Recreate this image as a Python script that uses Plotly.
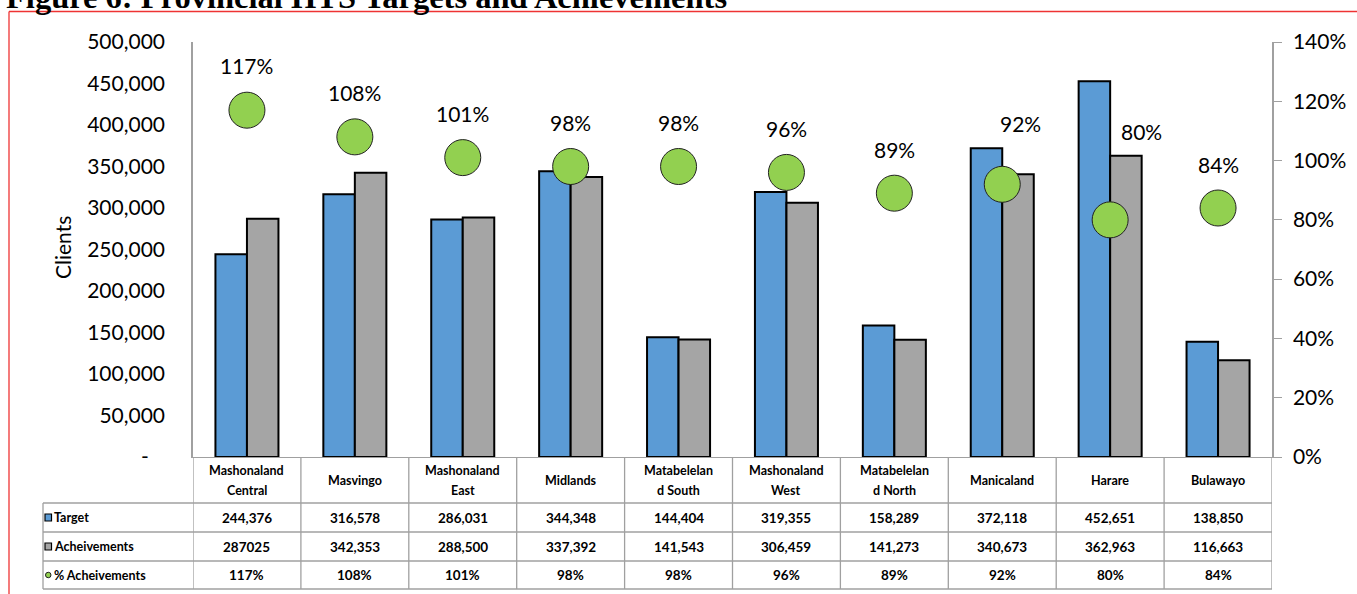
import plotly.graph_objects as go

# ---------------- data ----------------
categories = ["Mashonaland\nCentral", "Masvingo", "Mashonaland\nEast", "Midlands",
              "Matabelelan\nd South", "Mashonaland\nWest", "Matabelelan\nd North",
              "Manicaland", "Harare", "Bulawayo"]
target = [244376, 316578, 286031, 344348, 144404, 319355, 158289, 372118, 452651, 138850]
achievements = [287025, 342353, 288500, 337392, 141543, 306459, 141273, 340673, 362963, 116663]
achievement_labels = ["287025", "342,353", "288,500", "337,392", "141,543", "306,459",
                      "141,273", "340,673", "362,963", "116,663"]
pct_achievement = [1.17, 1.08, 1.01, 0.98, 0.98, 0.96, 0.89, 0.92, 0.80, 0.84]
row_labels = ["Target", "Acheivements", "% Acheivements"]
left_ticks = [0, 50000, 100000, 150000, 200000, 250000, 300000, 350000, 400000, 450000, 500000]
left_ticktext = ["-\u00a0\u00a0\u00a0"] + [f"{v:,}" for v in left_ticks[1:]]
title_text = "Figure 6: Provincial HTS Targets and Achievements"

# label offsets (pixels) for the percentage labels
label_dx = [0, 0, 0, 0, 0, 0, 0, 18, 31, 0]
label_dy = [45, 44, 44, 44, 44, 44, 44, 61, 88, 44]

# ---------------- geometry ----------------
W, H = 1357, 594
PL, PR, PT, PB = 193, 1272, 42, 457


def px(p):
    """window x pixel -> paper x"""
    return (p - PL) / (PR - PL)


def py(p):
    """window y pixel -> paper y"""
    return (PB - p) / (PB - PT)


BLUE = "#5B9BD5"
GRAY = "#A5A5A5"
GREEN = "#92D050"
LINE = "#A0A0A0"
FONT = "Lato"

x_idx = list(range(len(categories)))

fig = go.Figure()
fig.add_trace(go.Bar(x=x_idx, y=target, name="Target", marker=dict(color=BLUE, line=dict(color="black", width=2))))
fig.add_trace(go.Bar(x=x_idx, y=achievements, name="Acheivements", marker=dict(color=GRAY, line=dict(color="black", width=2))))
fig.add_trace(go.Scatter(x=x_idx, y=pct_achievement, yaxis="y2", mode="markers", name="% Acheivements",
                         marker=dict(color=GREEN, size=36, line=dict(color="#222222", width=1))))

annotations = []
shapes = []

# percentage labels
for i, p in enumerate(pct_achievement):
    annotations.append(dict(x=i, y=p, xref="x", yref="y2", text=f"{round(p*100)}%", showarrow=False,
                            xanchor="center", yanchor="middle",
                            xshift=label_dx[i], yshift=label_dy[i],
                            font=dict(family=FONT, size=21, color="black")))

# y-axis title
annotations.append(dict(x=px(62), y=py(248), xref="paper", yref="paper", text="Clients", textangle=-90,
                        xanchor="center", yanchor="middle",
                        showarrow=False, font=dict(family=FONT, size=21, color="black")))

# title (partly cut off at top)
annotations.append(dict(x=px(4), y=py(-2.5), xref="paper", yref="paper", xanchor="left", yanchor="middle",
                        text=f"<b>{title_text}</b>", showarrow=False,
                        font=dict(family="Liberation Serif", size=32.5, color="black")))

# ---------------- data table ----------------
row_edges = [457, 503, 532, 561, 589]
nfont = dict(family=FONT, size=13.5, color="black")
lfont = dict(family=FONT, size=12.5, color="black")

# header row category names
for i, c in enumerate(categories):
    lines = c.split("\n")
    if len(lines) == 1:
        ys = [480]
    else:
        ys = [470.5, 490.5]
    for ln, yy in zip(lines, ys):
        annotations.append(dict(x=i, y=py(yy), xref="x", yref="paper", text=f"<b>{ln}</b>",
                                xanchor="center", yanchor="middle", showarrow=False, font=lfont))

# values rows
rows = [[f"{v:,}" for v in target], achievement_labels, [f"{round(p*100)}%" for p in pct_achievement]]
for r, vals in enumerate(rows):
    yc = (row_edges[r + 1] + row_edges[r + 2]) / 2
    for i, t in enumerate(vals):
        annotations.append(dict(x=i, y=py(yc), xref="x", yref="paper", text=f"<b>{t}</b>",
                                xanchor="center", yanchor="middle", showarrow=False, font=nfont))
    annotations.append(dict(x=px(52), y=py(yc), xref="paper", yref="paper", xanchor="left", yanchor="middle",
                            text=f"<b>{row_labels[r]}</b>", showarrow=False, font=lfont))

# legend keys in the row headers
key_colors = [BLUE, GRAY]
for r in range(2):
    yc = (row_edges[r + 1] + row_edges[r + 2]) / 2
    shapes.append(dict(type="rect", xref="paper", yref="paper", x0=px(45), x1=px(51.5),
                       y0=py(yc - 3.5), y1=py(yc + 3.5), fillcolor=key_colors[r],
                       line=dict(color="black", width=1.2)))
yc = (row_edges[3] + row_edges[4]) / 2
shapes.append(dict(type="circle", xref="paper", yref="paper", x0=px(45.5), x1=px(51),
                   y0=py(yc - 2.75), y1=py(yc + 2.75), fillcolor=GREEN, line=dict(color="#222222", width=1)))

# horizontal table lines
for e in row_edges[1:]:
    shapes.append(dict(type="line", xref="paper", yref="paper", x0=px(43), x1=1, y0=py(e), y1=py(e),
                       line=dict(color=LINE, width=1.3)))
# vertical table lines
for i in range(len(categories) + 1):
    shapes.append(dict(type="line", xref="x", yref="paper", x0=i - 0.5, x1=i - 0.5,
                       y0=py(457), y1=py(589), line=dict(color=LINE, width=1.3)))
shapes.append(dict(type="line", xref="paper", yref="paper", x0=px(43), x1=px(43),
                   y0=py(503), y1=py(589), line=dict(color=LINE, width=1.3)))

# red frame
shapes.append(dict(type="line", xref="paper", yref="paper", x0=px(9), x1=px(1400), y0=py(11.5), y1=py(11.5),
                   line=dict(color="#EE3333", width=1.3)))
shapes.append(dict(type="line", xref="paper", yref="paper", x0=px(9), x1=px(9), y0=py(11.5), y1=py(620),
                   line=dict(color="#EE3333", width=1.3)))

fig.update_layout(
    width=W, height=H, autosize=False,
    margin=dict(l=PL, r=W - PR, t=PT, b=H - PB, pad=0, autoexpand=False),
    paper_bgcolor="white", plot_bgcolor="white",
    showlegend=False,
    barmode="group", bargap=0.416, bargroupgap=0,
    xaxis=dict(range=[-0.5, len(categories) - 0.5], showticklabels=False, showgrid=False, zeroline=False,
               showline=True, linecolor=LINE, linewidth=1.3, ticks="", automargin=False),
    yaxis=dict(range=[0, 500000], tickvals=left_ticks, ticktext=left_ticktext, showgrid=False,
               zeroline=False, showline=True, linecolor=LINE, linewidth=1.5, ticks="", automargin=False,
               ticklabelstandoff=22, tickfont=dict(family=FONT, size=21, color="black")),
    yaxis2=dict(range=[0, 1.4], overlaying="y", side="right", tickformat=".0%", dtick=0.2, tick0=0,
                showgrid=False, zeroline=False, showline=True, linecolor=LINE, linewidth=1.5,
                ticks="outside", ticklen=8, tickcolor=LINE, tickwidth=1.3, automargin=False,
                ticklabelstandoff=7, tickfont=dict(family=FONT, size=21, color="black")),
    annotations=annotations,
    shapes=shapes,
)

# remove the default page margin so the figure fills the window exactly
fig.write_html("out.html", config={"displayModeBar": False},
               post_script="document.body.style.margin='0';document.body.style.overflow='hidden';")
